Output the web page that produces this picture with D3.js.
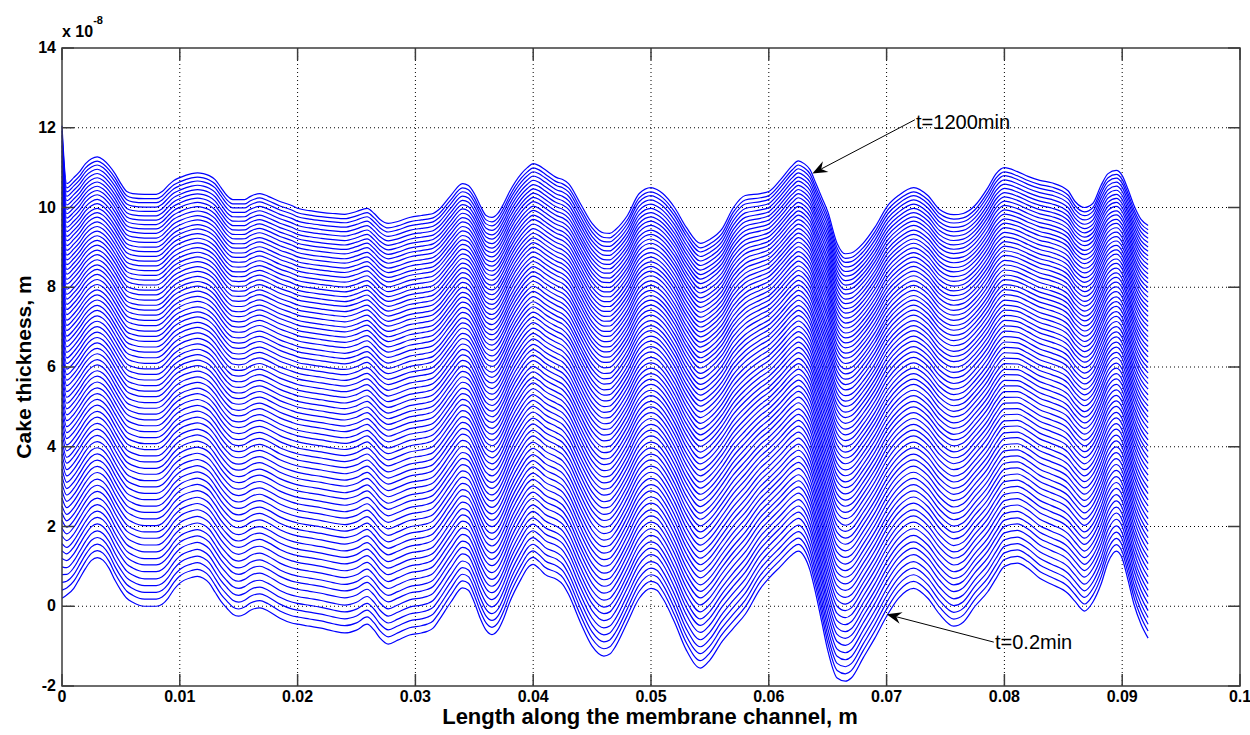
<!DOCTYPE html>
<html>
<head>
<meta charset="utf-8">
<script src="https://cdn.jsdelivr.net/npm/d3@7"></script>
<style>
  body { margin: 0; background: #fff; }
  text { font-family: Arial, "Liberation Sans", sans-serif; }
</style>
</head>
<body>
<svg id="chart"></svg>
<script>
// positions along the channel, mm
var xMm = [0, 0.4, 1.0, 1.5, 2.0, 2.5, 3.0, 3.5, 4.0, 4.5, 5.0, 5.5, 6.0, 7.0, 8.0, 8.5, 9.0, 9.5, 10.0, 11.0,
  11.5, 12.0, 12.5, 13.0, 13.5, 14.0, 14.5, 15.0, 15.5, 16.0, 16.8, 17.5, 18.5, 19.5, 20.0, 21.0, 22.0, 23.0, 24.0, 25.0,
  25.9, 26.5, 27.0, 27.7, 28.5, 29.5, 30.5, 31.0, 31.5, 32.0, 33.0, 34.0, 34.5, 35.0, 35.5, 36.0, 36.5, 37.0, 37.5, 38.0,
  39.0, 39.5, 40.0, 40.5, 41.0, 42.0, 42.5, 43.0, 44.0, 45.0, 46.0, 46.5, 47.0, 48.0, 49.0, 50.0, 50.5, 51.0, 52.0, 53.0,
  54.2, 55.0, 56.0, 57.0, 58.0, 59.3, 60.0, 61.0, 62.0, 62.5, 63.0, 63.5, 64.0, 64.5, 65.0, 65.8, 66.5, 67.0, 68.0, 69.0,
  70.1, 71.0, 72.3, 73.5, 74.5, 75.7, 76.5, 77.5, 78.6, 79.3, 80.0, 81.1, 82.0, 83.0, 84.0, 85.4, 86.0, 86.8, 87.5, 88.2,
  88.8, 89.5, 90.0, 90.5, 91.0, 91.6, 92.2];

// cake thickness at t=0.2min (x 1e-8 m)
var profileFirst = [0.2, 0.28, 0.45, 0.7, 0.95, 1.15, 1.22, 1.15, 0.95, 0.65, 0.4, 0.2, 0.1, 0.0, 0.0, 0.05, 0.2, 0.42, 0.58, 0.72,
  0.75, 0.7, 0.58, 0.35, 0.12, -0.05, -0.2, -0.25, -0.2, -0.1, -0.04, -0.12, -0.3, -0.42, -0.45, -0.5, -0.55, -0.62, -0.67, -0.6,
  -0.45, -0.6, -0.8, -0.95, -0.85, -0.72, -0.67, -0.63, -0.55, -0.35, 0.1, 0.46, 0.4, 0.1, -0.3, -0.6, -0.71, -0.6, -0.3, 0.1,
  0.7, 0.95, 1.05, 0.95, 0.8, 0.67, 0.55, 0.3, -0.4, -1.0, -1.25, -1.2, -1.0, -0.4, 0.2, 0.45, 0.4, 0.2, -0.4, -1.1,
  -1.55, -1.35, -0.9, -0.55, -0.2, 0.45, 0.7, 1.0, 1.3, 1.38, 1.25, 0.9, 0.3, -0.4, -1.1, -1.8, -1.88, -1.8, -1.3, -0.8,
  -0.2, 0.2, 0.45, 0.2, -0.2, -0.5, -0.4, 0.0, 0.37, 0.7, 1.0, 1.08, 0.95, 0.7, 0.55, 0.32, 0.12, -0.12, 0.1, 0.55,
  1.1, 1.38, 1.2, 0.65, 0.05, -0.45, -0.8];

// cake thickness at t=1200min (x 1e-8 m)
var profileLast = [12.05, 10.6, 10.75, 10.9, 11.1, 11.22, 11.27, 11.2, 11.05, 10.85, 10.6, 10.4, 10.35, 10.33, 10.33, 10.4, 10.55, 10.68, 10.75, 10.85,
  10.87, 10.85, 10.8, 10.7, 10.5, 10.3, 10.2, 10.2, 10.2, 10.28, 10.35, 10.28, 10.15, 10.05, 9.98, 9.92, 9.88, 9.85, 9.83, 9.9,
  9.98, 9.85, 9.7, 9.6, 9.65, 9.75, 9.8, 9.82, 9.85, 9.95, 10.3, 10.6, 10.55, 10.35, 10.05, 9.8, 9.75, 9.85, 10.1, 10.4,
  10.85, 11.0, 11.1, 11.05, 10.95, 10.75, 10.7, 10.6, 10.1, 9.6, 9.36, 9.35, 9.45, 9.8, 10.35, 10.5, 10.45, 10.35, 10.0, 9.5,
  9.1, 9.2, 9.45, 10.0, 10.3, 10.35, 10.4, 10.7, 11.05, 11.17, 11.1, 10.95, 10.6, 10.25, 9.9, 9.1, 8.84, 8.86, 9.1, 9.5,
  10.05, 10.3, 10.5, 10.3, 9.95, 9.82, 9.85, 10.05, 10.5, 10.85, 11.0, 10.9, 10.78, 10.68, 10.62, 10.42, 10.15, 10.0, 10.1, 10.55,
  10.85, 10.93, 10.8, 10.45, 10.05, 9.7, 9.55];

// growth of each plotted curve above the first one (x 1e-8 m), read at x = 0.021 m
var curveLevels = [0, 0.18, 0.35, 0.52, 0.69, 0.87, 1.04, 1.20, 1.37, 1.54, 1.71, 1.87, 2.03, 2.20, 2.36,
  2.52, 2.68, 2.84, 3.00, 3.16, 3.32, 3.47, 3.63, 3.78, 3.94, 4.09, 4.24, 4.39, 4.54, 4.69,
  4.83, 4.98, 5.12, 5.27, 5.41, 5.55, 5.69, 5.83, 5.97, 6.11, 6.25, 6.39, 6.52, 6.66, 6.79,
  6.92, 7.06, 7.19, 7.32, 7.45, 7.57, 7.70, 7.83, 7.95, 8.08, 8.20, 8.32, 8.44, 8.56, 8.68,
  8.80, 8.92, 9.03, 9.15, 9.26, 9.38, 9.49, 9.60, 9.71, 9.82, 9.93, 10.04, 10.15, 10.25, 10.36];

var xTicks = [0, 0.01, 0.02, 0.03, 0.04, 0.05, 0.06, 0.07, 0.08, 0.09, 0.1];
var yTicks = [-2, 0, 2, 4, 6, 8, 10, 12, 14];

var notes = [
  {label: "t=1200min", at: [0.0637, 10.85], from: [0.0724, 12.2], text: [0.0725, 12.15]},
  {label: "t=0.2min", at: [0.07, -0.2], from: [0.0791, -0.9], text: [0.0792, -0.9]}
];

var W = 1250, H = 735;
var margin = {top: 48, right: 10, bottom: 49, left: 62};
var width = W - margin.left - margin.right,
    height = H - margin.top - margin.bottom;

var svg = d3.select("#chart").attr("width", W).attr("height", H);
var g = svg.append("g").attr("transform", "translate(" + margin.left + "," + margin.top + ")");

var x = d3.scaleLinear().domain([0, 0.1]).range([0, width]);
var y = d3.scaleLinear().domain([-2, 14]).range([height, 0]);

// dotted grid
g.append("g").selectAll("line").data(xTicks.slice(1, -1)).enter().append("line")
    .attr("x1", function(d) { return x(d); }).attr("x2", function(d) { return x(d); })
    .attr("y1", 0).attr("y2", height)
    .attr("stroke", "#000").attr("stroke-width", 1).attr("stroke-dasharray", "1,3");
g.append("g").selectAll("line").data(yTicks.slice(1, -1)).enter().append("line")
    .attr("y1", function(d) { return y(d); }).attr("y2", function(d) { return y(d); })
    .attr("x1", 0).attr("x2", width)
    .attr("stroke", "#000").attr("stroke-width", 1).attr("stroke-dasharray", "1,3");

// curves
var span = curveLevels[curveLevels.length - 1];
var curves = curveLevels.map(function(lv) {
    var f = lv / span;
    return xMm.map(function(xm, i) {
        return [xm / 1000, profileFirst[i] + f * (profileLast[i] - profileFirst[i])];
    });
});

var line = d3.line()
    .x(function(d) { return x(d[0]); })
    .y(function(d) { return y(d[1]); })
    .curve(d3.curveMonotoneX);

g.append("g").attr("class", "curves").selectAll("path")
    .data(curves).enter().append("path")
    .attr("d", line)
    .attr("fill", "none")
    .attr("stroke", "#0000ff")
    .attr("stroke-width", 1.2);

// box and ticks, matlab style
var axisCol = "#3c3c3c";
g.append("rect").attr("x", 0).attr("y", 0).attr("width", width).attr("height", height)
    .attr("fill", "none").attr("stroke", axisCol).attr("stroke-width", 1.5);

var tl = 12;
xTicks.forEach(function(d) {
    g.append("line").attr("x1", x(d)).attr("x2", x(d)).attr("y1", height).attr("y2", height - tl)
        .attr("stroke", axisCol).attr("stroke-width", 1.5);
    g.append("line").attr("x1", x(d)).attr("x2", x(d)).attr("y1", 0).attr("y2", tl)
        .attr("stroke", axisCol).attr("stroke-width", 1.5);
    g.append("text").attr("x", x(d)).attr("y", height + 16)
        .attr("text-anchor", "middle").attr("font-size", 16).attr("font-weight", "bold")
        .text(d3.format("~g")(d));
});
yTicks.forEach(function(d) {
    g.append("line").attr("x1", 0).attr("x2", tl).attr("y1", y(d)).attr("y2", y(d))
        .attr("stroke", axisCol).attr("stroke-width", 1.5);
    g.append("line").attr("x1", width).attr("x2", width - tl).attr("y1", y(d)).attr("y2", y(d))
        .attr("stroke", axisCol).attr("stroke-width", 1.5);
    g.append("text").attr("x", -6).attr("y", y(d) + 5)
        .attr("text-anchor", "end").attr("font-size", 16).attr("font-weight", "bold")
        .text(d);
});

// exponent
var ex = g.append("text").attr("x", 0).attr("y", -11).attr("font-size", 16).attr("font-weight", "bold");
ex.append("tspan").text("x 10");
ex.append("tspan").attr("dy", -13).attr("font-size", 11).text("-8");

// axis titles
svg.append("text").attr("x", 650).attr("y", 724)
    .attr("text-anchor", "middle").attr("font-size", 22).attr("font-weight", "bold")
    .text("Length along the membrane channel, m");
svg.append("text")
    .attr("transform", "translate(31,367) rotate(-90)")
    .attr("text-anchor", "middle").attr("font-size", 21).attr("font-weight", "bold")
    .text("Cake thickness, m");

// annotations with arrows
notes.forEach(function(n) {
    var x1 = x(n.from[0]), y1 = y(n.from[1]), x2 = x(n.at[0]), y2 = y(n.at[1]);
    var ang = Math.atan2(y2 - y1, x2 - x1);
    var hl = 15, hw = 6, back = 10;
    var bx = x2 - hl * Math.cos(ang), by = y2 - hl * Math.sin(ang);
    var nx = -Math.sin(ang), ny = Math.cos(ang);
    g.append("line").attr("x1", x1).attr("y1", y1)
        .attr("x2", x2 - back * Math.cos(ang)).attr("y2", y2 - back * Math.sin(ang))
        .attr("stroke", "#000").attr("stroke-width", 1);
    var pts = [[x2, y2], [bx + hw * nx, by + hw * ny],
        [x2 - back * Math.cos(ang), y2 - back * Math.sin(ang)], [bx - hw * nx, by - hw * ny]];
    g.append("path").attr("d", "M" + pts.join("L") + "Z").attr("fill", "#000");
    g.append("text").attr("x", x(n.text[0])).attr("y", y(n.text[1]) + 7)
        .attr("font-size", 20).text(n.label);
});
</script>
</body>
</html>
